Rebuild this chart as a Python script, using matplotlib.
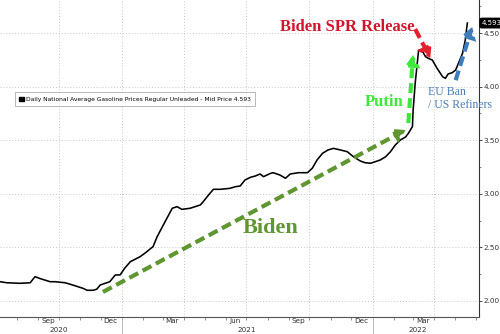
import numpy as np
import pandas as pd
import matplotlib
matplotlib.use("Agg")
import matplotlib.pyplot as plt
import matplotlib.dates as mdates
import matplotlib.transforms as mtransforms
from matplotlib.patches import Patch

# Daily national average gasoline price, regular unleaded
dates = pd.to_datetime([
    "2020-07-07", "2020-07-17", "2020-08-05", "2020-08-20", "2020-08-27", "2020-09-03",
    "2020-09-18", "2020-09-25", "2020-10-10", "2020-10-21", "2020-11-05", "2020-11-11",
    "2020-11-20", "2020-11-25", "2020-11-30", "2020-12-14", "2020-12-22", "2020-12-29",
    "2021-01-05", "2021-01-13", "2021-01-27", "2021-02-03", "2021-02-15", "2021-02-21",
    "2021-03-02", "2021-03-15", "2021-03-22", "2021-03-29", "2021-04-10", "2021-04-25",
    "2021-04-29", "2021-05-09", "2021-05-14", "2021-05-24", "2021-06-07", "2021-06-15",
    "2021-06-22", "2021-06-29", "2021-07-07", "2021-07-14", "2021-07-21", "2021-07-26",
    "2021-08-05", "2021-08-09", "2021-08-19", "2021-08-27", "2021-09-03", "2021-09-15",
    "2021-09-28", "2021-10-05", "2021-10-12", "2021-10-20", "2021-10-28", "2021-11-05",
    "2021-11-15", "2021-11-25", "2021-12-04", "2021-12-14", "2021-12-21", "2021-12-29",
    "2022-01-05", "2022-01-12", "2022-01-20", "2022-01-27", "2022-02-03", "2022-02-10",
    "2022-02-18", "2022-02-22", "2022-02-28", "2022-03-01", "2022-03-04", "2022-03-07",
    "2022-03-09", "2022-03-15", "2022-03-19", "2022-03-23", "2022-03-29", "2022-04-05",
    "2022-04-13", "2022-04-17", "2022-04-21", "2022-04-27", "2022-05-02", "2022-05-06",
    "2022-05-12", "2022-05-16", "2022-05-19",
])
prices = [
    2.18, 2.17, 2.165, 2.17, 2.227, 2.21,
    2.18, 2.18, 2.17, 2.149, 2.118, 2.10,
    2.10, 2.11, 2.149, 2.18, 2.243, 2.243,
    2.308, 2.367, 2.413, 2.445, 2.507, 2.60,
    2.709, 2.865, 2.88, 2.855, 2.865, 2.896,
    2.926, 3.005, 3.042, 3.042, 3.051, 3.066,
    3.073, 3.129, 3.154, 3.166, 3.185, 3.16,
    3.19, 3.197, 3.175, 3.145, 3.185, 3.197,
    3.197, 3.238, 3.315, 3.378, 3.409, 3.424,
    3.409, 3.393, 3.346, 3.306, 3.29, 3.285,
    3.30, 3.315, 3.346, 3.393, 3.455, 3.50,
    3.53, 3.564, 3.626, 3.78, 4.03, 4.217,
    4.34, 4.326, 4.28, 4.264, 4.248, 4.17,
    4.092, 4.077, 4.118, 4.13, 4.155, 4.217,
    4.31, 4.435, 4.593,
]
last_price = "4.593"
legend_label = "Daily National Average Gasoline Prices Regular Unleaded - Mid Price 4.593"

y_ticks = [2.0, 2.5, 3.0, 3.5, 4.0, 4.5]
quarter_starts = pd.to_datetime(["2020-10-01", "2021-01-01", "2021-04-01", "2021-07-01",
                                 "2021-10-01", "2022-01-01", "2022-04-01"])
year_starts = pd.to_datetime(["2021-01-01", "2022-01-01"])
year_labels = ["2020", "2021", "2022"]
year_label_dates = pd.to_datetime(["2020-10-01", "2021-07-01", "2022-03-08"])

# annotation arrows: (start date, start price, end date, end price, colour)
arrows = [
    ("2020-12-04", 2.084, "2022-02-18", 3.595, "#5f9631"),
    ("2022-02-22", 3.66, "2022-03-01", 4.295, "#3ee83a"),
    ("2022-03-04", 4.537, "2022-03-26", 4.267, "#e5202e"),
    ("2022-05-02", 4.06, "2022-05-26", 4.556, "#3f7cbc"),
]

fig = plt.figure(figsize=(5, 3.34), dpi=100)
ax = fig.add_axes([0.0, 0.051, 0.958, 0.949])

ax.plot(dates, prices, color="black", lw=1.15, zorder=3)

ax.set_xlim(pd.Timestamp("2020-07-07"), pd.Timestamp("2022-06-05"))
ax.set_ylim(1.851, 4.808)

# grid
for d in quarter_starts:
    ax.axvline(d, color="#c8c8c8", lw=0.7, ls=(0, (1, 2)), zorder=0)
for v in y_ticks:
    ax.axhline(v, color="#c8c8c8", lw=0.7, ls=(0, (1, 2)), zorder=0)

# spines
for s in ["left", "top"]:
    ax.spines[s].set_visible(False)
ax.spines["right"].set_color("#333333")
ax.spines["bottom"].set_color("#555555")
ax.spines["right"].set_linewidth(0.8)
ax.spines["bottom"].set_linewidth(0.8)

# y axis on the right
ax.yaxis.tick_right()
ax.set_yticks(y_ticks)
ax.set_yticklabels([f"{v:.2f}" for v in y_ticks])
ax.set_yticks(np.arange(2.0, 4.76, 0.25), minor=True)
ax.tick_params(axis="y", which="major", labelsize=5.2, length=2, width=0.6,
               colors="#333333", pad=1)
ax.tick_params(axis="y", which="minor", length=1.5, width=0.5, colors="#555555")

# x axis: month labels mid-month, monthly tick marks
ax.xaxis.set_major_locator(mdates.MonthLocator(bymonth=[3, 6, 9, 12], bymonthday=15))
ax.xaxis.set_major_formatter(mdates.DateFormatter("%b"))
ax.xaxis.set_minor_locator(mdates.MonthLocator())
ax.tick_params(axis="x", which="major", labelsize=5.2, length=0, pad=0.8, colors="#333333")
ax.tick_params(axis="x", which="minor", length=2.5, width=0.5, colors="#666666")

trans = mtransforms.blended_transform_factory(ax.transData, ax.transAxes)
for d, lab in zip(year_label_dates, year_labels):
    ax.text(d, -0.042, lab, transform=trans, ha="center", va="center",
            fontsize=5.2, color="#333333")
for d in year_starts:
    ax.plot([d, d], [0, -0.06], transform=trans, color="#bbbbbb", lw=0.7, clip_on=False)

# dashed arrows
for x0, y0, x1, y1, c in arrows:
    ax.annotate("", xy=(pd.Timestamp(x1), y1), xytext=(pd.Timestamp(x0), y0),
                arrowprops=dict(arrowstyle="-|>,head_length=0.5,head_width=0.32",
                                color=c, lw=3.0, linestyle=(0, (2.4, 1.2)),
                                shrinkA=0, shrinkB=0, mutation_scale=10,
                                capstyle="butt", joinstyle="miter"),
                zorder=5)

serif = ["Liberation Serif", "DejaVu Serif"]
ax.text(pd.Timestamp("2021-06-26"), 2.68, "Biden", color="#5f9631", fontsize=16,
        fontweight="bold", family=serif, ha="left", va="center")
ax.text(pd.Timestamp("2021-12-21"), 3.86, "Putin", color="#3ee83a", fontsize=12,
        fontweight="bold", family=serif, ha="left", va="center")
ax.text(pd.Timestamp("2021-08-19"), 4.56, "Biden SPR Release", color="#d0162c",
        fontsize=12, fontweight="bold", family=serif, ha="left", va="center")
ax.text(pd.Timestamp("2022-03-22"), 3.89, "EU Ban\n/ US Refiners", color="#4a7fb5",
        fontsize=8.5, family=serif, ha="left", va="center", linespacing=1.2)

# last price tag
ax.annotate(last_price, xy=(1.0, 4.593), xycoords=("axes fraction", "data"),
            xytext=(2, 0), textcoords="offset points", ha="left", va="center",
            fontsize=5, color="white", annotation_clip=False,
            bbox=dict(boxstyle="round,pad=0.25", fc="black", ec="black"))

handle = Patch(facecolor="black", edgecolor="black")
leg = ax.legend([handle], [legend_label], loc="upper left",
                bbox_to_anchor=(0.025, 0.718), fontsize=4.3,
                frameon=True, fancybox=False, handlelength=0.8, handleheight=0.8,
                borderpad=0.7, handletextpad=0.4)
leg.get_frame().set_edgecolor("#999999")
leg.get_frame().set_linewidth(0.6)

fig.savefig("out.png", dpi=100)
